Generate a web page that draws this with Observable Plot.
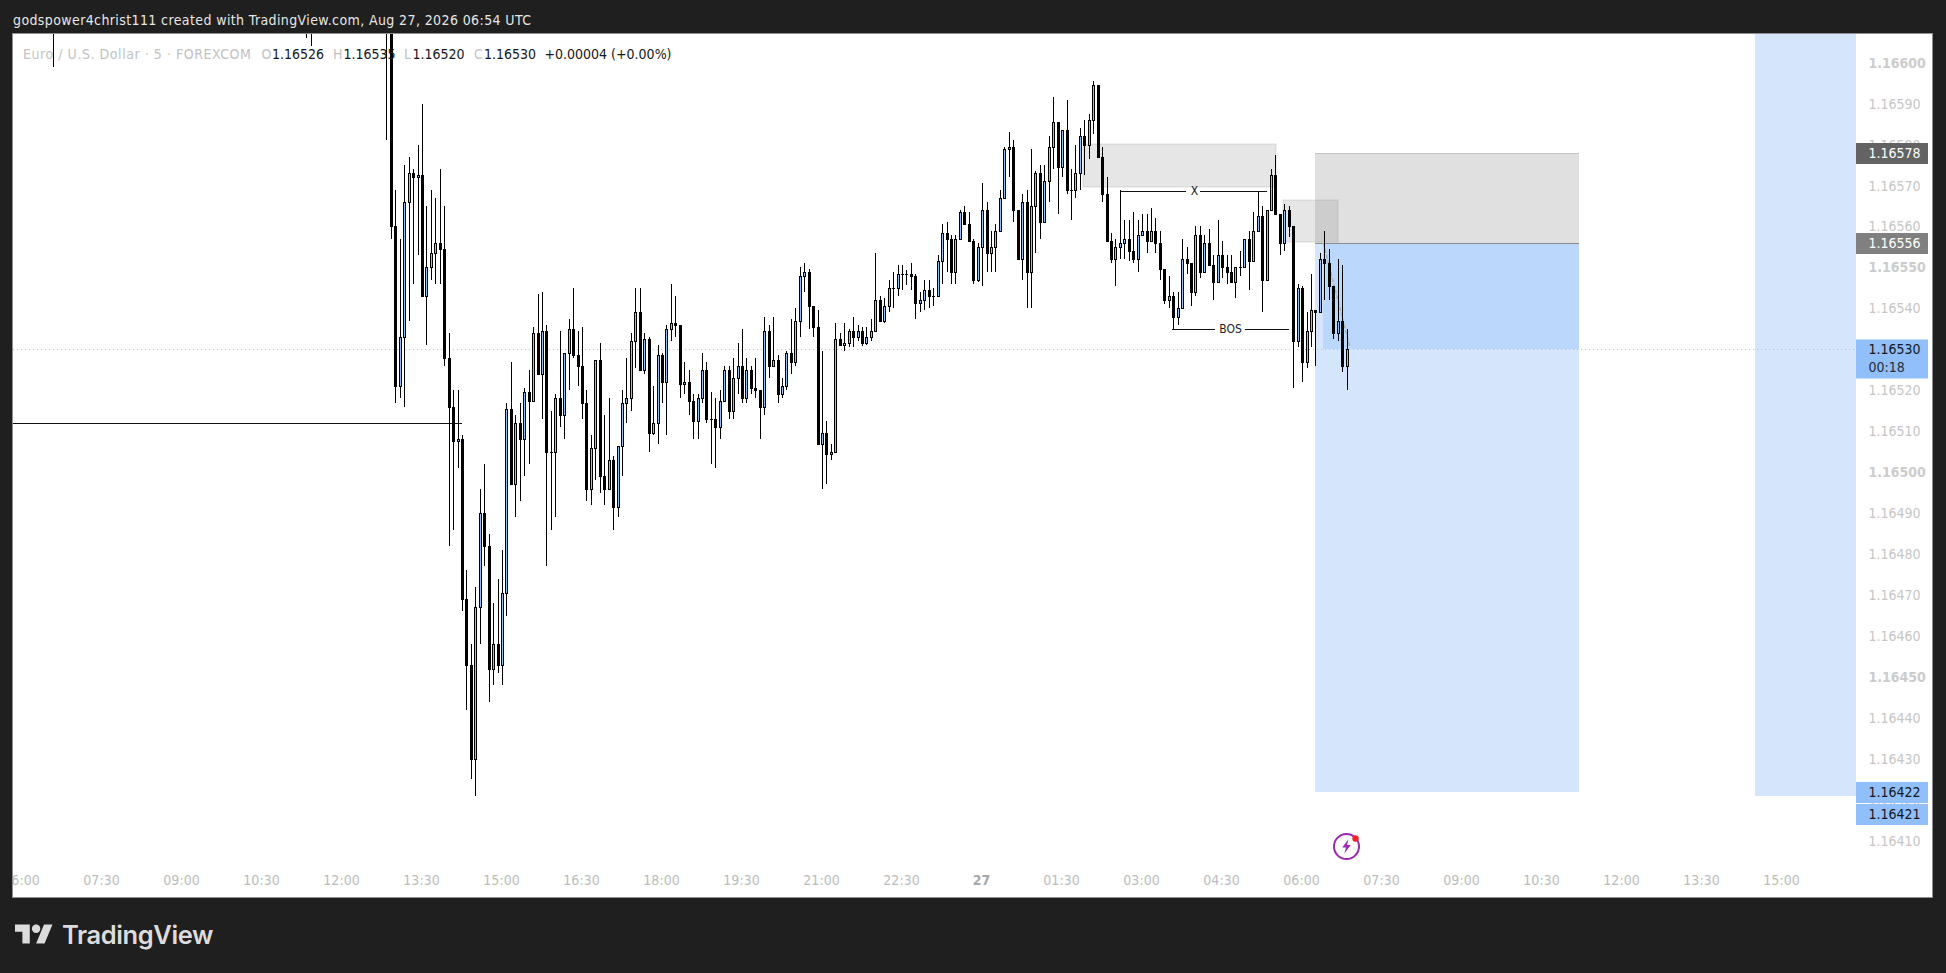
<!DOCTYPE html>
<html>
<head>
<meta charset="utf-8">
<script src="https://cdn.jsdelivr.net/npm/d3@7"></script>
<script src="https://cdn.jsdelivr.net/npm/@observablehq/plot@0.6"></script>
<style>
  html,body{margin:0;padding:0;background:#1f1f1f;width:1946px;height:973px;overflow:hidden;font-family:"DejaVu Sans Condensed","DejaVu Sans",sans-serif;font-stretch:condensed}
  #head{position:absolute;left:13px;top:11px;color:#e6e6e6;font-size:14px;letter-spacing:.39px;line-height:18px;white-space:nowrap}
  #panel{position:absolute;left:13px;top:34px;width:1919px;height:863px;background:#fff;overflow:hidden;outline:1px solid #8f8f8f}
  #panel svg{position:absolute;left:0;top:0;max-width:none}
  #legend span{position:absolute;top:11px;font-size:14px;line-height:18px;white-space:nowrap;color:#131722}
  #legend span.g{color:#c2c2c2}
  #legend span.name{letter-spacing:.55px}
  #foot{position:absolute;left:15px;top:917px;height:36px;color:#dcdcdc;font-family:Inter,Lato,sans-serif;font-stretch:normal;font-weight:600;font-size:25.5px;letter-spacing:-.4px;line-height:36px;white-space:nowrap}
  #foot svg{position:absolute;left:0;top:3px}
  #foot b{position:absolute;left:47px;top:0;font-weight:600}
</style>
</head>
<body>
<div id="head">godspower4christ111 created with TradingView.com, Aug 27, 2026 06:54 UTC</div>
<div id="panel"></div>
<div id="foot"><svg width="38" height="30" viewBox="0 0 36 28" fill="#dcdcdc"><path d="M14 22H7V11H0V4h14v18zM28 22h-8l7.5-18h8L28 22z"/><circle cx="20" cy="8" r="4"/></svg><b>TradingView</b></div>
<script>
// Prices are in points above 1.16000 (1 point = 0.00001). First bar is 12:50 UTC, 5-minute bars.
const opens = [650,630,560,521,533,566,573,572,572.5,543,
550,553.5,556,554.5,528,516,507.5,508,469,453,
430,467,490,482,452,458,453,470.5,515.5,497,
512,508,519.5,517.5,534,524,534.5,505,505,518,
514,529,535,528.5,526,517,496,506,527.5,499,
496,503,491.5,506.5,517,518,532,539,525,532.5,
509.5,512,528.5,522,535,536.5,536,521.5,522,517.5,
512.5,518,525,513,513,511,517.5,525,515,523,
526,518,525,520.5,520,516,534.5,526,527.5,519,
521,529,527,537,548,549,540.5,535.5,507,509.5,
504.5,505,532.5,531,531.5,534.5,533,534.5,531.5,533,
534.5,542,537,540.5,545,545,548.5,548.3,548.3,548,
541.3,542,544.5,543,543,551.5,558.5,557,549,557,
563.5,560.5,556.5,547,555,564,553.5,555,559,567,
579,579.5,564,552,566,549,565,573,561,571,
579.5,585.5,574.5,583.5,569,569,573,582,580,586,
594.5,577,568,556.5,552,555,556,557,554,552,
558,559,556.5,559,556,549.5,542,543,538,540,
552,551,544,558,549,556,550.5,546.5,553,550,
549,546.5,550,550,557,551.5,559,562.5,547,564,
572.5,563,556,564,560,532,545,527,534.5,539.5,
539,552,551,545.5,534,537,526];
const highs = [660,640,569,557,575,577,574,580,590,565,
569,567,574,565,534,520,520,509,476,458,
472,496,502,485,468,474,481,517,527,514,
517,520.5,525,535.5,543.5,544,536,515,519,534.5,
529,537.5,545,534.5,535.5,520,509,527.5,531.5,514,
518,504,506.5,520,528,534,545,545,534,533,
521,531,529,536,546,543,536,527,525,519,
519,529,527,519.5,518,520,526,526,528,531.5,
535,528,526,528,520,538,536,538,528.5,523,
529.5,537.5,540,550,551,549.5,540.5,539.5,529.5,512.5,
507,536.5,534,536.5,535,538,536,535.5,535.5,537.5,
553.5,543,542.5,547,549,550.5,550.5,549.3,551,548.5,
544,547,547,545,553,560.5,561,558,558,564,
565,563.5,557,556,570.5,566,559,560.5,569,579.5,
583,581,564,568,569,579,573.5,575,575,582,
591.5,585.5,583.5,591,574,580,584,586,587.5,595.5,
594.5,579.5,572,558.5,557,569,561.5,561.5,563.5,561.5,
563,563,564.5,562,559,549.5,548,544,544,557,
555,551,560,560,558,559.5,553,561.5,556.5,553,
553,550,554,557,559,563.5,568.6,565,564,574,
577.5,563,565.5,565,560,546,545.5,539,548.5,539.5,
553.5,559,554.5,545.5,552,550.5,535];
const lows = [581,557,517,518,516,537,546,553,543,531,
547,546,546,526,482,486,501,466,442,425,
421,458,477,444,448,451,448,465,497,489,
493,499,502,517.5,524,513,477,486,489,511,
508,520,528,521,513,493,492,498,495,492,
496,486,489,499,512,515,525.5,525,524,505,
509,507,517,509,532,533,518,519,514,508,
508,517,512,502,501,508,517.5,513,513,519,
517,517,519,518,508,514,523,526,517,518,
520,524,526,533,544,535,533,507,496,497,
503,505,531,529.5,530.5,530.5,532,530.7,531,532,
534.5,537,536.5,539,540,543,544.5,545.7,544.5,537.5,
539,539.5,540,540.5,543,546,549,546,546,557,
560.5,556.5,546,546.5,545.5,549,549,549,559,567,
572,561,552,547,540,540,553.5,557,561,566,
574,563,572,568,561.5,567,569,572.5,576.5,582.5,
577,566,556.5,551,545.5,552,552,551.5,551,549,
558,553.5,556.5,553.5,547,541,540,535,536,540,
548.5,540.5,543,547.5,549,550.5,542,546.5,547.5,546,
546.5,542.5,548,550,544.5,551.5,559,539,547,564,
563,553,554,557.5,520.5,530.5,522,525.5,530.5,526,
539,542,542,532.5,532,524.5,520];
const closes = [630,560,521,533,566,573,572,572.5,543,550,
553.5,556,554.5,528,516,507.5,508,469,453,430,
467,490,482,452,458,453,470.5,515.5,497,512,
508,519.5,517.5,534,524,534.5,505,505,518,514,
529,535,528.5,526,517,496,506,527.5,499,496,
503,491.5,506.5,517,518,532,539,525,532.5,509.5,
512,528.5,522,535,536.5,536,521.5,522,517.5,512.5,
518,525,513,513,511,517.5,525,515,523,526,
518,525,520.5,520,516,534.5,526,527.5,519,521,
529,527,537,548,549,540.5,535.5,507,509.5,504.5,
505,532.5,531,531.5,534.5,533,534.5,531.5,533,534.5,
542,537,540.5,545,545,548.5,548.5,548.3,548,541.3,
542,544.5,543,543,551.5,558.5,557,549,557,563.5,
560.5,556.5,547,555,564,553.5,555,559,567,579,
579.5,564,552,566,549,565,573,561,571,579.5,
585.5,574.5,583.5,569,569,573,582,580,586,594.5,
577,568,556.5,552,555,556,557,554,552,558,
559,556.5,559,556,549.5,542,543,538,540,552,
551,544,558,549,556,550.5,546.5,553,550,549,
546.5,550,550,557,551.5,559,562.5,547,564,572.5,
563,556,564,560,532,545,527,534.5,539.5,539,
552,551,545.5,534,537,526,530];

// Earlier bars whose lower wick tips alone reach into the view.
const earlyTimes = ["06:35","11:20","11:25"];
const earlyLows  = [599,606,604];

// Drawing tools and price levels
const lastPrice = 530, supportLevel = 512;
const stopPrice = 578, entryPrice = 556, targetPrice = 422, farTarget = 421;
const xLevel = 568.6, bosLevel = 535;
const priceTicks = d3.range(410, 601, 10);
const boldTicks = [450, 500, 550, 600];

const MIN = 60000;
const day26 = h => new Date(`2026-08-26T${h}:00Z`);
const day27 = h => new Date(`2026-08-27T${h}:00Z`);
const price = p => 1.16 + p / 1e5;
const firstBar = day26("12:50");
const bars = opens.map((o, i) => ({
  t: new Date(+firstBar + i * 5 * MIN),
  o: price(o), h: price(highs[i]), l: price(lows[i]), c: price(closes[i]),
  up: closes[i] >= o
}));
const early = earlyTimes.map((h, i) => ({t: day26(h), l: price(earlyLows[i]), h: price(650)}));
const up = bars.filter(d => d.up);

const xDomain = [day26("05:50"), day27("16:23")];
const yDomain = [price(403.1), price(607)];
const axisEnd = day27("17:44");
const timeTicks = d3.range(0, 23).map(i => new Date(+day26("06:00") + i * 90 * MIN));
const midnight = day27("00:00");
const regTicks = timeTicks.filter(d => +d !== +midnight);
const f5 = d3.format(".5f");

const stopFill = "#e0e0e0", zoneFill = "#d4e5fc", profitFill = "#bbd7fb", tagBlue = "#90bff9";
const gridText = "#c6c6c6", boldText = "#cccccc", timeText = "#bcbcbc", boxFill = "rgba(128,128,128,0.2)", boxEdge = "rgba(128,128,128,0.12)";
const fontFamily = '"DejaVu Sans Condensed", "DejaVu Sans", sans-serif';

const boltSymbol = {draw(ctx, size) {
  const s = Math.sqrt(size) / 2;
  const pts = [[.25,-1],[-.6,.15],[-.08,.15],[-.3,1],[.6,-.2],[.08,-.2],[.25,-1]];
  pts.forEach((p, i) => i ? ctx.lineTo(p[0]*s, p[1]*s) : ctx.moveTo(p[0]*s, p[1]*s));
  ctx.closePath();
}};

const rect = (x1, x2, y1, y2, o) => Plot.rect([{x1, x2, y1: price(y1), y2: price(y2)}], {x1:"x1", x2:"x2", y1:"y1", y2:"y2", ...o});
const hline = (x1, x2, y, o) => Plot.ruleY([price(y)], {x1, x2, ...o});

const tag = (p, fill, color, dy, label) => [
  Plot.ruleY([price(p)], {x1: xDomain[1], x2: axisEnd, stroke: fill, strokeWidth: 21, dy, clip: false}),
  Plot.text([price(p)], {y: d => d, text: () => label ?? f5(price(p)), frameAnchor: "right", textAnchor: "start", dx: 12, dy, fill: color, fontSize: 14, clip: false})
];

const chart = Plot.plot({
  width: 1919, height: 863,
  marginLeft: 0, marginRight: 76, marginTop: 0, marginBottom: 28,
  style: {background: "#fff", fontFamily, fontStretch: "condensed"},
  x: {type: "utc", domain: xDomain, range: [0, 1843], round: true},
  y: {domain: yDomain, range: [835, 0], round: true},
  marks: [
    // far-right band
    rect(day27("14:29"), xDomain[1], farTarget, 607, {fill: zoneFill}),
    // short position
    rect(day27("06:14"), day27("11:11"), entryPrice, stopPrice, {fill: stopFill}),
    rect(day27("06:14"), day27("11:11"), targetPrice, entryPrice, {fill: zoneFill}),
    rect(day27("06:24"), day27("11:11"), lastPrice, entryPrice, {fill: profitFill}),
    hline(day27("06:14"), day27("11:11"), stopPrice, {stroke: "#c4c4c4"}),
    hline(day27("06:14"), day27("11:11"), entryPrice, {stroke: "#8c8c8c"}),
    // gray supply boxes
    rect(day27("01:53"), day27("05:31"), 569.6, 580.1, {fill: boxFill, stroke: boxEdge, strokeWidth: 2}),
    rect(day27("05:38"), day27("06:40"), 556.3, 566.5, {fill: boxFill, stroke: boxEdge, strokeWidth: 2}),
    // position path
    Plot.line([[day27("06:24"), price(556)], [day27("06:53"), price(531)]], {x: "0", y: "1", stroke: "#b0b0b0", strokeDasharray: "3,3", strokeWidth: 1.5}),
    // levels
    Plot.ruleY([price(lastPrice)], {stroke: "#aebde0", strokeDasharray: "1,3"}),
    hline(xDomain[0], day26("14:15"), supportLevel, {stroke: "#111"}),
    // candles
    Plot.ruleX(early, {x: "t", y1: "l", y2: "h", stroke: "#000", clip: true}),
    Plot.ruleX(bars, {x: "t", y1: "l", y2: "h", stroke: "#000", clip: true}),
    Plot.ruleX(bars, {x: "t", y1: "o", y2: "c", stroke: "#000", strokeWidth: 3, clip: true}),
    Plot.ruleX(up, {x: "t", y1: "o", y2: "c", stroke: tagBlue, strokeWidth: 1, clip: true}),
    Plot.ruleY(bars, {y: "o", x1: "t", x2: "t", insetLeft: -1, insetRight: -2, stroke: "#000", clip: true}),
    Plot.ruleY(bars, {y: "c", x1: "t", x2: "t", insetLeft: -1, insetRight: -2, stroke: "#000", clip: true}),
    // X and BOS annotations
    hline(day27("02:35"), day27("03:49"), xLevel, {stroke: "#111"}),
    hline(day27("04:05"), day27("05:20"), xLevel, {stroke: "#111"}),
    Plot.text([["X"]], {x: () => day27("03:58"), y: () => price(xLevel), text: "0", fill: "#222", fontSize: 12}),
    hline(day27("03:34"), day27("04:22"), bosLevel, {stroke: "#111"}),
    hline(day27("04:56"), day27("05:45"), bosLevel, {stroke: "#111"}),
    Plot.text([["BOS"]], {x: () => day27("04:39"), y: () => price(bosLevel), text: "0", fill: "#222", fontSize: 12}),
    // alert icon
    Plot.dot([0], {x: () => day27("06:49"), y: () => price(408.7), r: 12.5, stroke: "#9c27b0", strokeWidth: 2, fill: "#fff"}),
    Plot.dot([0], {x: () => day27("06:49"), y: () => price(408.7), r: 8, symbol: boltSymbol, fill: "#9c27b0"}),
    Plot.dot([0], {x: () => day27("06:49"), y: () => price(408.7), dx: 9, dy: -8, r: 3.2, fill: "#f0202c"}),
    // axes
    Plot.axisX(regTicks, {anchor: "bottom", tickSize: 0, tickPadding: 6, dx: -1, tickFormat: d3.utcFormat("%H:%M"), fontSize: 14, fill: timeText, label: null}),
    Plot.axisX([midnight], {anchor: "bottom", tickSize: 0, tickPadding: 6, dx: -1, tickFormat: d3.utcFormat("%d"), fontSize: 14, fontWeight: "bold", fill: "#a8a8a8", label: null}),
    Plot.axisY(priceTicks.filter(p => !boldTicks.includes(p)).map(price), {anchor: "right", tickSize: 0, tickPadding: 12, tickFormat: f5, fontSize: 14, fill: gridText, label: null}),
    Plot.axisY(boldTicks.map(price), {anchor: "right", tickSize: 0, tickPadding: 12, tickFormat: f5, fontSize: 14, fontWeight: "bold", fill: boldText, label: null}),
    // price tags
    ...tag(stopPrice, "#636363", "#fff", 0),
    ...tag(entryPrice, "#808080", "#fff", 0),
    Plot.ruleY([price(lastPrice)], {x1: xDomain[1], x2: axisEnd, stroke: tagBlue, strokeWidth: 39, dy: 9.5, clip: false}),
    Plot.text([0], {y: () => price(lastPrice), text: () => f5(price(lastPrice)), frameAnchor: "right", textAnchor: "start", dx: 12, fill: "#131722", fontSize: 14}),
    Plot.text([0], {y: () => price(lastPrice), text: () => "00:18", frameAnchor: "right", textAnchor: "start", dx: 12, dy: 18, fill: "#2a2e39", fontSize: 14}),
    ...tag(targetPrice, tagBlue, "#131722", 0),
    ...tag(farTarget, tagBlue, "#131722", 18)
  ]
});
const panel = document.getElementById("panel");
panel.appendChild(chart);

// legend line over the chart
const legend = document.createElement("div");
legend.id = "legend";
[["Euro / U.S. Dollar · 5 · FOREXCOM", 10, "g name"], ["O", 248.5, "g"], ["1.16526", 259, ""], ["H", 320, "g"], ["1.16535", 330.5, ""],
 ["L", 391, "g"], ["1.16520", 399.5, ""], ["C", 461, "g"], ["1.16530", 471, ""], ["+0.00004 (+0.00%)", 531.5, ""]]
  .forEach(([t, x, c]) => {
    const s = document.createElement("span");
    s.textContent = t; s.style.left = x + "px"; if (c) s.className = c;
    legend.appendChild(s);
  });
panel.appendChild(legend);
</script>
</body>
</html>
